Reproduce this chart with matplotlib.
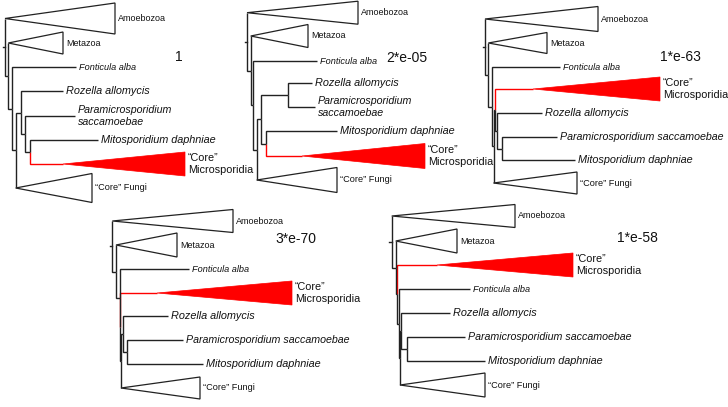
"""
Five collapsed phylogenies of Microsporidia and relatives
(placement of "Core" Microsporidia under different p-values)
"""

import matplotlib
matplotlib.use("Agg")
import matplotlib.pyplot as plt
from matplotlib.patches import Polygon

plt.rcParams['font.family'] = ['Liberation Sans', 'DejaVu Sans']

# taxa in the order used by all the per-panel lists below
TAXA = ["Amoebozoa", "Metazoa", "Fonticula", "Rozella", "Para", "Mito", "Micro", "CoreFungi"]
COLLAPSED = ["Amoebozoa", "Metazoa", "Micro", "CoreFungi"]

# trees: (node depth, child, child) ; tips are taxon names
TREE_1 = (5, "Amoebozoa", (8.3, "Metazoa", (12.3, "Fonticula",
          (15.7, (20.7, "Rozella", (25, "Para", (30, "Mito", "Micro"))), "CoreFungi"))))
TREE_2 = (247, "Amoebozoa", (250.7, "Metazoa", (253.3, "Fonticula",
          (256.7, (260.7, (288.3, "Rozella", "Para"), (266, "Mito", "Micro")), "CoreFungi"))))
TREE_3 = (485, "Amoebozoa", (488.3, "Metazoa", (492, "Fonticula",
          (493.5, (495, "Micro", (496.5, "Rozella", (501.5, "Para", "Mito"))), "CoreFungi"))))
TREE_4 = (112.3, "Amoebozoa", (116, "Metazoa", (119.5, "Fonticula",
          (120.3, "Micro", (121, (122.5, "Rozella", (127.3, "Para", "Mito")), "CoreFungi")))))
TREE_5 = (391.7, "Amoebozoa", (395.7, "Metazoa", (396.8, "Micro",
          (398.5, "Fonticula", (400, (401.2, "Rozella", (406.5, "Para", "Mito")), "CoreFungi")))))

# tip row (y) and branch end, order of TAXA
TIP_Y_1 = [18.5, 43, 67, 91, 116, 140, 164, 188]
TIP_Y_2 = [12.7, 36, 61, 83, 107, 131, 156, 180]
TIP_Y_3 = [19, 43, 67, 113, 137, 160, 89, 183]
TIP_Y_4 = [221, 245, 269, 316, 340, 364, 293, 388]
TIP_Y_5 = [216, 241, 289, 313, 337, 361, 265, 385]

TIP_END_1 = [5, 8.3, 76, 63, 75, 98, 63, 15.7]
TIP_END_2 = [247, 250.7, 317, 312, 315, 337, 302, 256.7]
TIP_END_3 = [485, 488.3, 560, 542, 557, 575, 533, 493.5]
TIP_END_4 = [112.3, 116, 189, 168, 183, 203, 157, 121]
TIP_END_5 = [391.7, 395.7, 470, 450, 465, 485, 437, 400]

# far edge / half height of collapsed clades, order of COLLAPSED
CLADE_FAR_1 = [115, 63, 185, 92]
CLADE_FAR_2 = [358, 308, 425, 337]
CLADE_FAR_3 = [598, 547, 660, 577]
CLADE_FAR_4 = [233, 177, 292, 200]
CLADE_FAR_5 = [515, 457, 573, 485]

CLADE_HALF_1 = [15.5, 11, 12, 14.5]
CLADE_HALF_2 = [11.5, 11.5, 12.5, 12.5]
CLADE_HALF_3 = [12.5, 10.5, 12, 11]
CLADE_HALF_4 = [11.5, 12, 12, 11]
CLADE_HALF_5 = [11.5, 12, 12, 12]

PARA_TWO_LINES = [True, True, False, False, False]

PANEL_VALUES = ["1", "2*e-05", "1*e-63", "3*e-70", "1*e-58"]
PANEL_VALUE_XY = [(175, 57), (386, 58), (660, 57), (275, 239), (617, 238)]

LINE_COL = '#222222'
RED = '#ff0000'


def draw_tree(ax, node, tip_y, tip_end):
    """Рекурсивно малює гілки, повертає (y, x) вузла"""
    if isinstance(node, str):
        return tip_y[node], tip_end[node]
    x = node[0]
    kids = [draw_tree(ax, ch, tip_y, tip_end) for ch in node[1:]]
    y = (kids[0][0] + kids[-1][0]) / 2
    for ch, (cy, cx) in zip(node[1:], kids):
        col = RED if ch == "Micro" else LINE_COL
        ax.plot([x, x, cx], [y, cy, cy], color=col, lw=1.0,
                solid_joinstyle='miter', solid_capstyle='butt', zorder=2)
    return y, x


def label_text(name, two_lines):
    if name == "Amoebozoa":
        return "Amoebozoa", dict(fontsize=6.5)
    if name == "Metazoa":
        return "Metazoa", dict(fontsize=6.5)
    if name == "Fonticula":
        return "Fonticula alba", dict(fontsize=6.6, style='italic')
    if name == "Rozella":
        return "Rozella allomycis", dict(fontsize=7.8, style='italic')
    if name == "Para":
        txt = "Paramicrosporidium\nsaccamoebae" if two_lines else "Paramicrosporidium saccamoebae"
        return txt, dict(fontsize=7.7, style='italic', linespacing=1.25)
    if name == "Mito":
        return "Mitosporidium daphniae", dict(fontsize=7.8, style='italic')
    if name == "Micro":
        return "\u201cCore\u201d\nMicrosporidia", dict(fontsize=7.8, linespacing=1.2)
    return "\u201cCore\u201d Fungi", dict(fontsize=6.6)


def draw_panel(ax, tree, ys, ends, fars, halves, two_lines, value, value_xy):
    tip_y = dict(zip(TAXA, ys))
    tip_end = dict(zip(TAXA, ends))
    root_y, root_x = draw_tree(ax, tree, tip_y, tip_end)
    # короткий корінь
    ax.plot([root_x - 2.5, root_x], [root_y, root_y], color=LINE_COL, lw=1.0)

    far = dict(zip(COLLAPSED, fars))
    half = dict(zip(COLLAPSED, halves))
    for name in TAXA:
        y, x = tip_y[name], tip_end[name]
        if name in far:
            pts = [(x, y), (far[name], y - half[name]), (far[name], y + half[name])]
            if name == "Micro":
                ax.add_patch(Polygon(pts, closed=True, facecolor=RED,
                                     edgecolor=RED, lw=0.5, zorder=3))
            else:
                ax.add_patch(Polygon(pts, closed=True, facecolor='white',
                                     edgecolor=LINE_COL, lw=0.9, zorder=3))
            lx = far[name] + 3
        else:
            lx = x + 3
        txt, kw = label_text(name, two_lines)
        ax.text(lx, y, txt, ha='left', va='center', color='#111111', **kw)

    ax.text(value_xy[0], value_xy[1], value, ha='left', va='center',
            fontsize=10, color='#111111')


def main():
    fig = plt.figure(figsize=(7.28, 4.07), dpi=100)
    ax = fig.add_axes([0, 0, 1, 1])
    ax.set_xlim(0, 728)
    ax.set_ylim(407, 0)
    ax.axis('off')

    trees = [TREE_1, TREE_2, TREE_3, TREE_4, TREE_5]
    tip_ys = [TIP_Y_1, TIP_Y_2, TIP_Y_3, TIP_Y_4, TIP_Y_5]
    tip_ends = [TIP_END_1, TIP_END_2, TIP_END_3, TIP_END_4, TIP_END_5]
    fars = [CLADE_FAR_1, CLADE_FAR_2, CLADE_FAR_3, CLADE_FAR_4, CLADE_FAR_5]
    halves = [CLADE_HALF_1, CLADE_HALF_2, CLADE_HALF_3, CLADE_HALF_4, CLADE_HALF_5]

    for i in range(5):
        draw_panel(ax, trees[i], tip_ys[i], tip_ends[i], fars[i], halves[i],
                   PARA_TWO_LINES[i], PANEL_VALUES[i], PANEL_VALUE_XY[i])

    fig.savefig("out.png", dpi=100)


if __name__ == "__main__":
    main()
